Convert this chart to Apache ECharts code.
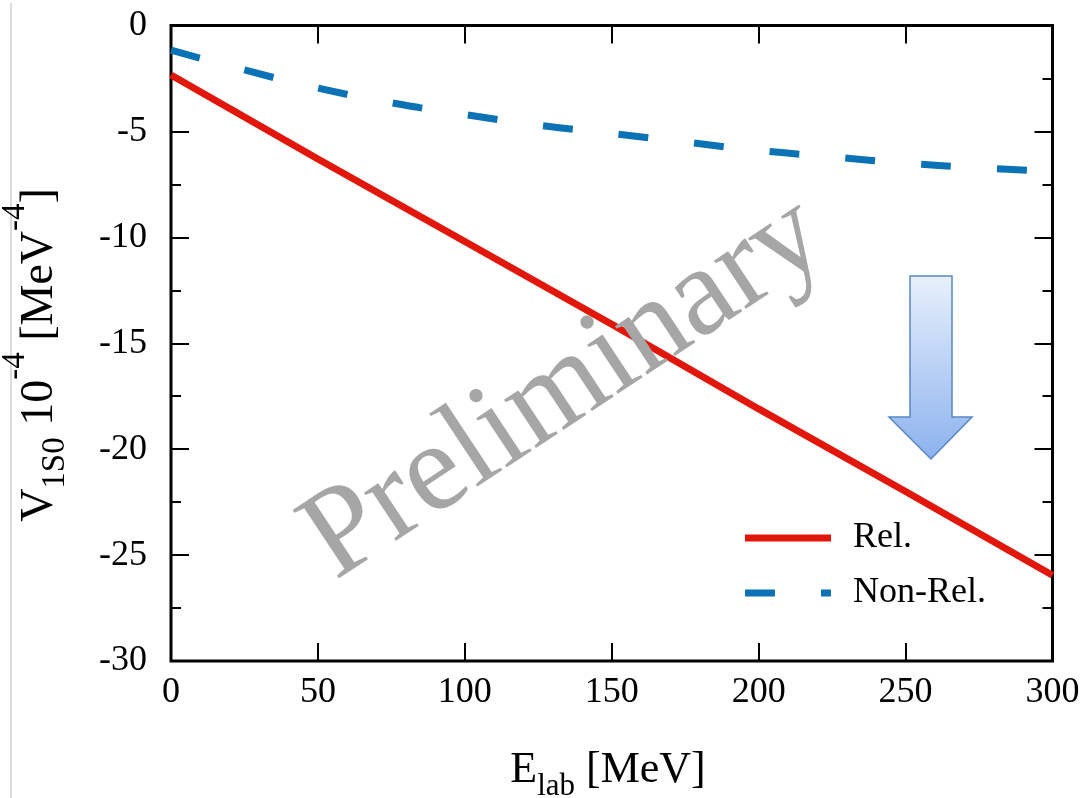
<!DOCTYPE html>
<html><head><meta charset="utf-8">
<script src="https://cdn.jsdelivr.net/npm/echarts@6/dist/echarts.min.js"></script>
<style>html,body{margin:0;padding:0;background:#fff}#c{width:1090px;height:798px}</style>
</head><body><div id="c"></div>
<script>
// Data
const relEnergies = [0, 50, 100, 150, 200, 250, 300];
const relValues = [-2.34, -6.3, -10.2, -14.1, -18.1, -22.0, -25.95];
const nonRelEnergies = [0, 25, 50, 75, 100, 125, 150, 175, 200, 225, 250, 275, 300];
const nonRelValues = [-1.16, -2.1, -2.95, -3.65, -4.2, -4.7, -5.1, -5.5, -5.9, -6.2, -6.5, -6.72, -6.88];
const seriesNames = ['Rel.', 'Non-Rel.'];
const xTitle = '{m|E}{sub|lab}{m| [MeV]}';
const yTitle = '{m|V}{sub|1S0}{m| 10}{sup|-4}{m| [MeV}{sup|-4}{m|]}';
const watermark = 'Preliminary';

const FONT = '"Liberation Serif", "Times New Roman", serif';
function richStyles(main, small, lh, pb) {
  return {
    m: { fontFamily: FONT, fontSize: main, lineHeight: lh, color: '#000', verticalAlign: 'middle' },
    sub: { fontFamily: FONT, fontSize: small, color: '#000', verticalAlign: 'bottom', padding: [0, 0, pb, 0] },
    sup: { fontFamily: FONT, fontSize: small, color: '#000', verticalAlign: 'top' }
  };
}

const chart = echarts.init(document.getElementById('c'), null, { renderer: 'canvas' });
function baseX() {
  return {
    type: 'value', min: 0, max: 300, interval: 50,
    axisLine: { show: false, onZero: false },
    axisTick: { show: true, inside: true, length: 18, lineStyle: { color: '#000', width: 2 } },
    splitLine: { show: false }
  };
}
function baseY() {
  return {
    type: 'value', min: -30, max: 0, interval: 5,
    axisLine: { show: false, onZero: false },
    axisTick: { show: true, inside: true, length: 18, lineStyle: { color: '#000', width: 2 } },
    minorTick: { show: true, splitNumber: 2, length: 10, lineStyle: { color: '#000', width: 2 } },
    splitLine: { show: false }, minorSplitLine: { show: false }
  };
}

chart.setOption({
  animation: false,
  backgroundColor: '#fff',
  grid: { left: 171, top: 25.5, right: 37.5, bottom: 137, show: true, borderColor: '#000', borderWidth: 3, backgroundColor: 'transparent' },
  xAxis: [
    Object.assign(baseX(), { position: 'bottom',
      axisLabel: { show: true, margin: 14, fontFamily: FONT, fontSize: 36, color: '#000', showMinLabel: true, showMaxLabel: true } }),
    Object.assign(baseX(), { position: 'top', axisLabel: { show: false } })
  ],
  yAxis: [
    Object.assign(baseY(), { position: 'left',
      axisLabel: { show: true, margin: 24, fontFamily: FONT, fontSize: 36, color: '#000', showMinLabel: true, showMaxLabel: true } }),
    Object.assign(baseY(), { position: 'right', axisLabel: { show: false } })
  ],
  legend: {
    orient: 'vertical', left: 741.5, top: 520, padding: 0,
    itemWidth: 86, itemHeight: 20, itemGap: 19,
    data: seriesNames,
    lineStyle: { width: 7 },
    itemStyle: { opacity: 0 },
    textStyle: { fontFamily: FONT, fontSize: 36, color: '#000', padding: [0, 0, 0, 17] }
  },
  series: [
    {
      name: seriesNames[0], type: 'line', xAxisIndex: 0, yAxisIndex: 0,
      data: relEnergies.map((e, i) => [e, relValues[i]]),
      symbol: 'none', showSymbol: false, smooth: false, z: 3,
      lineStyle: { color: '#e2170c', width: 7, cap: 'butt' },
      itemStyle: { color: '#e2170c' }
    },
    {
      name: seriesNames[1], type: 'line', xAxisIndex: 0, yAxisIndex: 0,
      data: nonRelEnergies.map((e, i) => [e, nonRelValues[i]]),
      symbol: 'none', showSymbol: false, smooth: true, z: 3,
      lineStyle: { color: '#0b72b6', width: 7, type: [30, 46], cap: 'butt' },
      itemStyle: { color: '#0b72b6' }
    }
  ],
  graphic: [
    { type: 'line', z: 1, shape: { x1: 11, y1: 3, x2: 11, y2: 798 }, style: { stroke: '#d0d0d0', lineWidth: 1.5 } },
    { type: 'text', z: 10, x: 608, y: 770,
      style: { text: xTitle, rich: richStyles(44, 31, 80, 8), align: 'center', verticalAlign: 'middle' } },
    { type: 'text', z: 10, x: 40, y: 355, rotation: Math.PI / 2,
      style: { text: yTitle, rich: richStyles(46, 33, 82, 9), align: 'center', verticalAlign: 'middle' } },
    { type: 'polygon', z: 20,
      shape: { points: [[910, 276], [952, 276], [952, 417], [972, 417], [931, 459], [889, 417], [910, 417]] },
      style: {
        fill: { type: 'linear', x: 0, y: 0, x2: 0, y2: 1, colorStops: [
          { offset: 0, color: '#e8f0fc' }, { offset: 1, color: '#8cb2ee' } ] },
        stroke: '#5a86c4', lineWidth: 1.5
      } },
    { type: 'text', z: 30, x: 565, y: 389, rotation: 0.585,
      style: { text: watermark, fontFamily: FONT, fontSize: 126, fill: '#a6a6a6', align: 'center', verticalAlign: 'middle' } }
  ]
});
</script>
</body></html>
